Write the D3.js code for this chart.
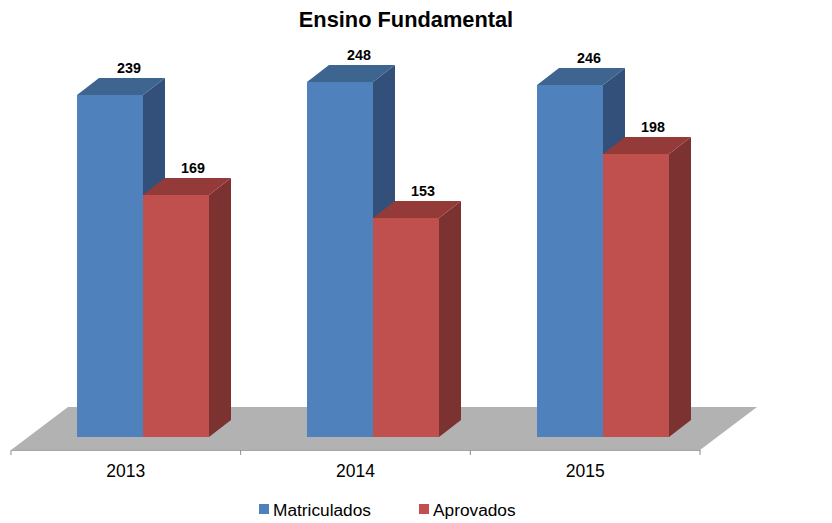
<!DOCTYPE html>
<html>
<head>
<meta charset="UTF-8">
<title>Ensino Fundamental</title>
<script src="https://d3js.org/d3.v7.min.js"></script>
<style>
  body { margin: 0; background: #fff; }
  text { font-family: "Liberation Sans", Arial, sans-serif; fill: #000; }
</style>
</head>
<body>
<div id="chart"></div>
<script>
var years = ["2013", "2014", "2015"];
var seriesNames = ["Matriculados", "Aprovados"];
var matriculados = [239, 248, 246];
var aprovados = [169, 153, 198];
var seriesValues = [matriculados, aprovados];

var front = ["#4f81bd", "#c0504d"];
var topFace = ["#3e6490", "#943b39"];
var sideFace = ["#32507a", "#7b3230"];

var width = 832, height = 523;
var depthX = 22, depthY = 17; // 3d offset of the bars
var baseY = 437, axisY = 450;

var svg = d3.select("#chart").append("svg")
  .attr("width", width)
  .attr("height", height)
  .style("display", "block");

var x = d3.scaleBand().domain(years).range([11, 700]);
var x1 = d3.scaleBand().domain(seriesNames).range([x.bandwidth() * 0.2887, x.bandwidth() * 0.8634]);
var y = d3.scaleLinear().domain([0, 248]).range([baseY, 82]);

// floor
svg.append("polygon")
  .attr("points", [
    [x.range()[0], axisY],
    [x.range()[1], axisY],
    [x.range()[1] + 57, axisY - 43],
    [x.range()[0] + 57, axisY - 43]
  ].join(" "))
  .attr("fill", "#b2b2b2");

// axis
var axis = svg.append("g")
  .attr("transform", "translate(0," + axisY + ")")
  .call(d3.axisBottom(x).tickSize(0).tickPadding(15));
axis.select(".domain").attr("stroke", "#a6a6a6").attr("stroke-width", 1.2);
axis.selectAll("text").style("font-size", "17.5px").attr("fill", "#000")
  .style("font-family", '"Liberation Sans", Arial, sans-serif');

var edges = years.map(function(d) { return x(d); }).concat([x.range()[1]]);
svg.selectAll(".edge").data(edges).enter().append("line")
  .attr("class", "edge")
  .attr("x1", function(d) { return d; })
  .attr("x2", function(d) { return d; })
  .attr("y1", axisY)
  .attr("y2", axisY + 5)
  .attr("stroke", "#8c8c8c");

// bars
years.forEach(function(year, i) {
  seriesNames.forEach(function(name, s) {
    var value = seriesValues[s][i];
    var x0 = Math.round(x(year) + x1(name));
    var w = Math.round(x1.bandwidth());
    var t = Math.round(y(value));
    var g = svg.append("g");

    g.append("polygon")
      .attr("points", [[x0 + w, t], [x0 + w + depthX, t - depthY], [x0 + w + depthX, baseY - depthY], [x0 + w, baseY]].join(" "))
      .attr("fill", sideFace[s]);
    g.append("polygon")
      .attr("points", [[x0, t], [x0 + depthX, t - depthY], [x0 + w + depthX, t - depthY], [x0 + w, t]].join(" "))
      .attr("fill", topFace[s]);
    g.append("rect")
      .attr("x", x0)
      .attr("y", t)
      .attr("width", w)
      .attr("height", baseY - t)
      .attr("fill", front[s]);

    g.append("text")
      .attr("x", x0 + w / 2 + (s === 0 ? 19 : 17))
      .attr("y", t - 22)
      .attr("text-anchor", "middle")
      .style("font-size", "14.3px")
      .style("font-weight", "bold")
      .text(value);
  });
});

// title
svg.append("text")
  .attr("x", 406)
  .attr("y", 27)
  .attr("text-anchor", "middle")
  .style("font-size", "21.8px")
  .style("font-weight", "bold")
  .text("Ensino Fundamental");

// legend
var legendX = [259, 419];
seriesNames.forEach(function(name, s) {
  svg.append("rect")
    .attr("x", legendX[s])
    .attr("y", 504)
    .attr("width", 10)
    .attr("height", 10)
    .attr("fill", front[s]);
  svg.append("text")
    .attr("x", legendX[s] + 14)
    .attr("y", 516)
    .style("font-size", "17.3px")
    .text(name);
});
</script>
</body>
</html>
